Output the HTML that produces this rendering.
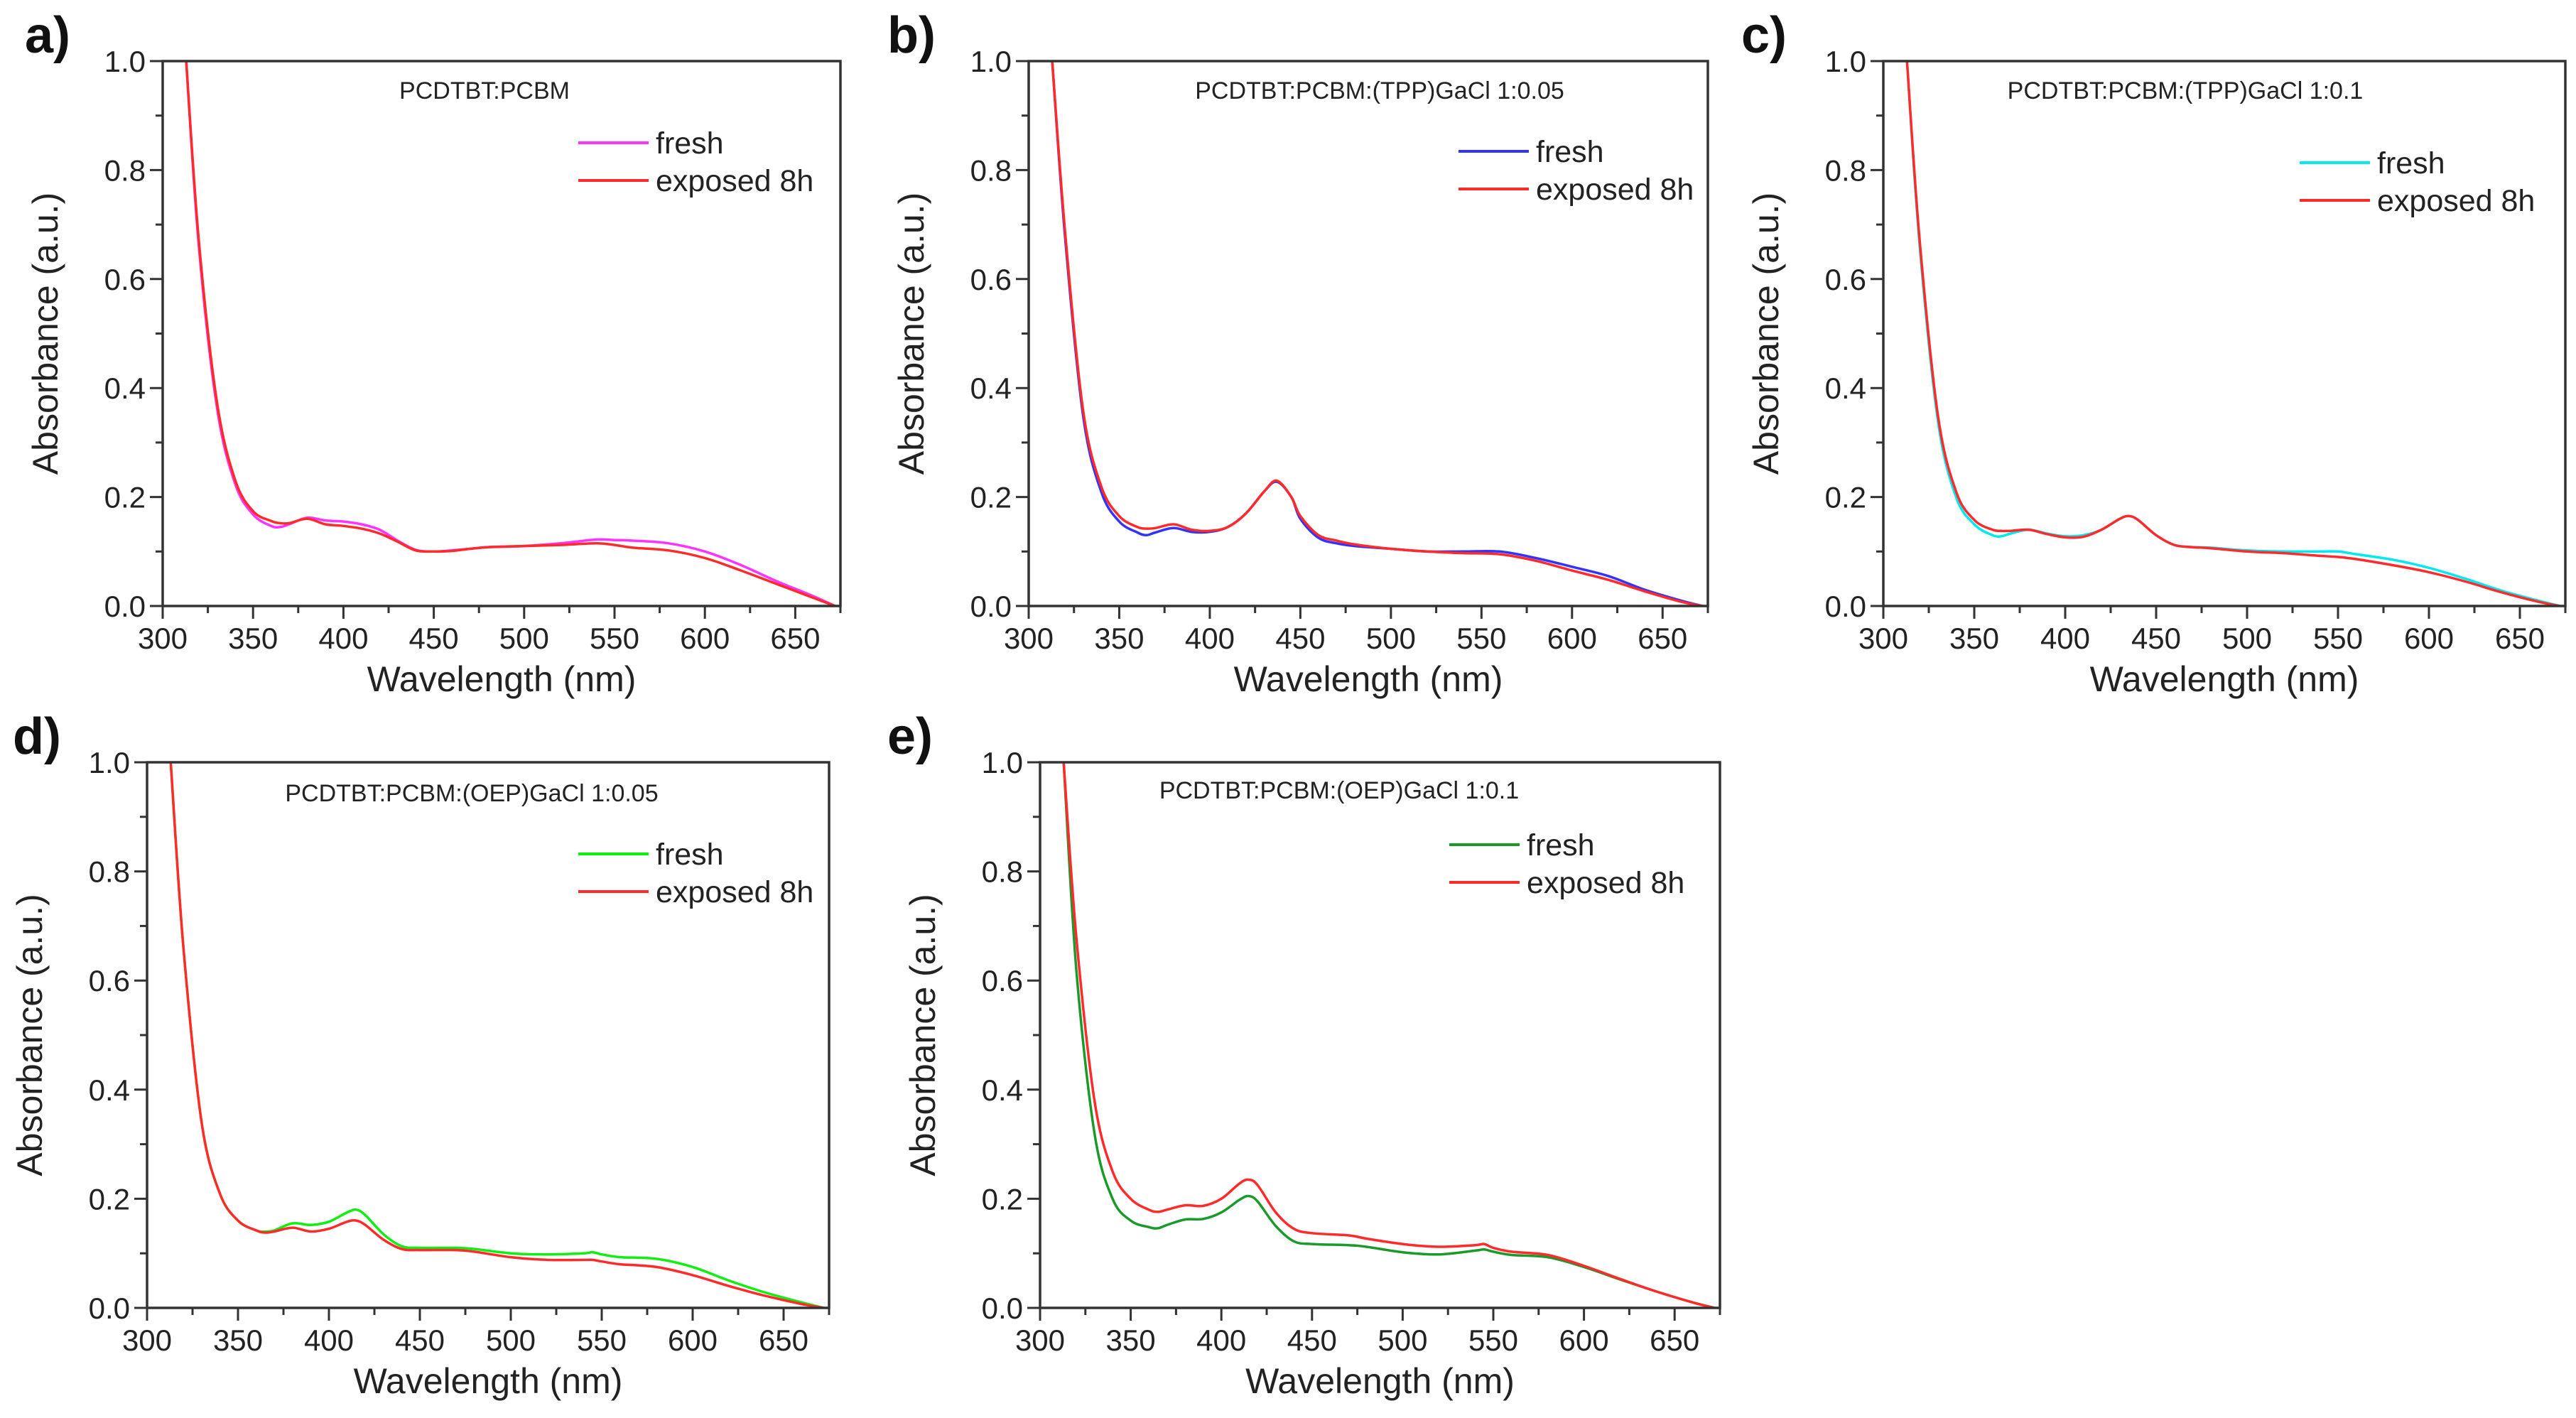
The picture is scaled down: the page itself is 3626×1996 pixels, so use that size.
<!DOCTYPE html>
<html><head><meta charset="utf-8"><style>
html,body{margin:0;padding:0;background:#fff;}
svg{display:block;font-family:"Liberation Sans",sans-serif;}
</style></head><body>
<svg id="fig" width="3626" height="1996" viewBox="0 0 3626 1996"></svg>
<script>
const xTicks=[300,350,400,450,500,550,600,650];
const yTicks=[0.0,0.2,0.4,0.6,0.8,1.0];
const yTickLabels=["0.0","0.2","0.4","0.6","0.8","1.0"];
const xTickLabels=["300","350","400","450","500","550","600","650"];

const wlA=[313,320,330,340,350,360,365,370,380,390,400,410,420,430,440,450,460,470,480,500,520,540,550,560,580,600,620,640,660,672];
const freshA=[1.0,0.66,0.365,0.225,0.168,0.147,0.145,0.15,0.162,0.157,0.155,0.15,0.14,0.12,0.103,0.1,0.102,0.105,0.108,0.11,0.115,0.122,0.121,0.12,0.115,0.1,0.075,0.045,0.018,0.0];
const exposedA=[1.0,0.67,0.375,0.232,0.174,0.156,0.152,0.152,0.16,0.15,0.147,0.142,0.133,0.118,0.102,0.1,0.101,0.105,0.108,0.11,0.112,0.115,0.112,0.107,0.102,0.088,0.065,0.04,0.015,0.0];

const wlB=[313,320,330,340,350,360,365,370,380,390,400,410,420,430,437,445,450,460,470,480,500,520,540,560,580,600,620,640,660,672];
const freshB=[1.0,0.68,0.35,0.21,0.155,0.135,0.13,0.135,0.143,0.136,0.136,0.145,0.17,0.21,0.228,0.2,0.16,0.125,0.115,0.11,0.105,0.1,0.1,0.1,0.088,0.072,0.055,0.03,0.01,0.0];
const exposedB=[1.0,0.69,0.36,0.22,0.165,0.145,0.142,0.143,0.15,0.14,0.138,0.145,0.17,0.21,0.23,0.2,0.165,0.13,0.12,0.113,0.105,0.1,0.097,0.095,0.083,0.065,0.048,0.027,0.008,0.0];

const wlC=[313,320,330,340,350,360,365,370,380,390,400,410,420,430,435,440,450,460,470,480,500,520,540,550,560,580,600,620,640,660,672];
const freshC=[1.0,0.66,0.34,0.2,0.15,0.13,0.128,0.133,0.14,0.133,0.128,0.13,0.14,0.16,0.165,0.158,0.13,0.112,0.108,0.107,0.102,0.1,0.1,0.1,0.095,0.085,0.07,0.05,0.028,0.01,0.0];
const exposedC=[1.0,0.67,0.35,0.21,0.158,0.14,0.138,0.138,0.14,0.132,0.126,0.127,0.14,0.16,0.165,0.158,0.13,0.112,0.108,0.106,0.1,0.097,0.092,0.09,0.086,0.075,0.062,0.045,0.025,0.008,0.0];

const wlD=[313,320,330,340,350,360,365,370,380,390,400,410,415,420,430,440,450,470,480,500,520,540,545,550,560,580,600,620,640,660,672];
const freshD=[1.0,0.66,0.34,0.21,0.16,0.142,0.14,0.142,0.155,0.152,0.158,0.175,0.18,0.17,0.135,0.113,0.11,0.11,0.108,0.1,0.098,0.1,0.102,0.098,0.093,0.09,0.075,0.05,0.028,0.01,0.0];
const exposedD=[1.0,0.66,0.34,0.21,0.16,0.142,0.138,0.14,0.147,0.14,0.145,0.158,0.16,0.152,0.125,0.108,0.106,0.106,0.103,0.093,0.088,0.088,0.088,0.085,0.08,0.075,0.06,0.04,0.022,0.007,0.0];

const wlE=[313,320,330,340,350,360,365,370,380,390,400,410,415,420,430,440,450,470,480,500,520,540,545,550,560,580,600,620,640,660,672];
const freshE=[1.0,0.62,0.32,0.2,0.16,0.148,0.146,0.152,0.162,0.163,0.175,0.198,0.205,0.195,0.15,0.122,0.117,0.115,0.112,0.102,0.098,0.105,0.107,0.103,0.097,0.093,0.075,0.052,0.03,0.01,0.0];
const exposedE=[1.0,0.68,0.38,0.25,0.2,0.18,0.176,0.18,0.188,0.187,0.2,0.228,0.235,0.225,0.175,0.145,0.137,0.133,0.127,0.117,0.112,0.115,0.117,0.11,0.103,0.097,0.077,0.053,0.03,0.01,0.0];

const panels=[
 {id:"a",L:229,R:1183,T:86,B:853,title:"PCDTBT:PCBM",tx:682,ty:139,lab:[35,74],lx:814,ly:201,fc:"#ff33ff",wl:wlA,f:freshA,e:exposedA},
 {id:"b",L:1448,R:2404,T:86,B:853,title:"PCDTBT:PCBM:(TPP)GaCl 1:0.05",tx:1942,ty:139,lab:[1249,74],lx:2053,ly:213,fc:"#3333ff",wl:wlB,f:freshB,e:exposedB},
 {id:"c",L:2651,R:3611,T:86,B:853,title:"PCDTBT:PCBM:(TPP)GaCl 1:0.1",tx:3076,ty:139,lab:[2451,74],lx:3237,ly:229,fc:"#00e8f0",wl:wlC,f:freshC,e:exposedC},
 {id:"d",L:207,R:1167,T:1073,B:1841,title:"PCDTBT:PCBM:(OEP)GaCl 1:0.05",tx:664,ty:1128,lab:[18,1061],lx:814,ly:1202,fc:"#11ee11",wl:wlD,f:freshD,e:exposedD},
 {id:"e",L:1464,R:2421,T:1073,B:1841,title:"PCDTBT:PCBM:(OEP)GaCl 1:0.1",tx:1885,ty:1124,lab:[1249,1061],lx:2040,ly:1189,fc:"#1a9a2a",wl:wlE,f:freshE,e:exposedE}
];
const NS="http://www.w3.org/2000/svg";
const svg=document.getElementById("fig");
function mk(tag,attrs,parent){const el=document.createElementNS(NS,tag);for(const k in attrs)el.setAttribute(k,attrs[k]);(parent||svg).appendChild(el);return el;}
function smooth(pts){let d="M"+pts[0][0].toFixed(1)+","+pts[0][1].toFixed(1);
 for(let i=0;i<pts.length-1;i++){const p0=pts[Math.max(0,i-1)],p1=pts[i],p2=pts[i+1],p3=pts[Math.min(pts.length-1,i+2)];
  const c1=[p1[0]+(p2[0]-p0[0])/6,p1[1]+(p2[1]-p0[1])/6],c2=[p2[0]-(p3[0]-p1[0])/6,p2[1]-(p3[1]-p1[1])/6];
  d+=" C"+c1[0].toFixed(1)+","+c1[1].toFixed(1)+" "+c2[0].toFixed(1)+","+c2[1].toFixed(1)+" "+p2[0].toFixed(1)+","+p2[1].toFixed(1);}
 return d;}
panels.forEach(p=>{
 const g=mk("g",{});
 
 
 const X=v=>p.L+(v-300)/(675-300)*(p.R-p.L);
 const Y=v=>p.B-v*(p.B-p.T);
 const clipId="clip"+p.id;
 const cp=mk("clipPath",{id:clipId},g);mk("rect",{x:p.L,y:p.T,width:p.R-p.L,height:p.B-p.T},cp);
 const lab=mk("text",{x:p.lab[0],y:p.lab[1],"font-size":72,"font-weight":"bold",fill:"#111"},g);lab.textContent=p.id+")";
 
 
 for(let v=300;v<=675;v+=25){const x=X(v);const major=(v%50===0);
  const t=mk("line",{x1:x,y1:p.B,x2:x,y2:p.B+(major?18:10),stroke:"#333","stroke-width":3},g);
  
  }
 for(let i=0;i<=10;i++){const y=Y(i/10);const major=(i%2===0);
  const t=mk("line",{x1:p.L,y1:y,x2:p.L-(major?18:10),y2:y,stroke:"#333","stroke-width":3},g);
  
  }
 xTicks.forEach((v,i)=>{const t=mk("text",{x:X(v),y:p.B+60,"font-size":42,"text-anchor":"middle",fill:"#222"},g);t.textContent=xTickLabels[i];
  
  });
 yTicks.forEach((v,i)=>{const t=mk("text",{x:p.L-24,y:Y(v)+15,"font-size":42,"text-anchor":"end",fill:"#222"},g);t.textContent=yTickLabels[i];
  
  });
 const xt=mk("text",{x:(p.L+p.R)/2,y:p.B+120,"font-size":50,"text-anchor":"middle",fill:"#222"},g);xt.textContent="Wavelength (nm)";
 
 
 const yc=(p.T+p.B)/2,yx=p.L-148;
 const yt=mk("text",{x:yx,y:yc,"font-size":50,"text-anchor":"middle",fill:"#222",transform:"rotate(-90 "+yx+" "+yc+")"},g);yt.textContent="Absorbance (a.u.)";
 
 
 const ti=mk("text",{x:p.tx,y:p.ty,"font-size":34,"text-anchor":"middle",fill:"#222"},g);ti.textContent=p.title;
 
 
 const sg=mk("g",{"clip-path":"url(#"+clipId+")"},g);
 const fp=mk("path",{d:smooth(p.wl.map((w,i)=>[X(w),Y(p.f[i])])),fill:"none",stroke:p.fc,"stroke-width":3.5},sg);
 
 
 const ep=mk("path",{d:smooth(p.wl.map((w,i)=>[X(w),Y(p.e[i])])),fill:"none",stroke:"#ff2a2a","stroke-width":3.5},sg);
 
 
 const fr=mk("rect",{x:p.L,y:p.T,width:p.R-p.L,height:p.B-p.T,fill:"none",stroke:"#333","stroke-width":3.5},g);
 
 
 const l1=mk("line",{x1:p.lx,y1:p.ly,x2:p.lx+99,y2:p.ly,stroke:p.fc,"stroke-width":4},g);
 
 
 const t1=mk("text",{x:p.lx+109,y:p.ly+15,"font-size":43,fill:"#222"},g);t1.textContent="fresh";
 
 
 const l2=mk("line",{x1:p.lx,y1:p.ly+53,x2:p.lx+99,y2:p.ly+53,stroke:"#ff2a2a","stroke-width":4},g);
 
 
 const t2=mk("text",{x:p.lx+109,y:p.ly+68,"font-size":43,fill:"#222"},g);t2.textContent="exposed 8h";
 
 
});
</script>
</body></html>
